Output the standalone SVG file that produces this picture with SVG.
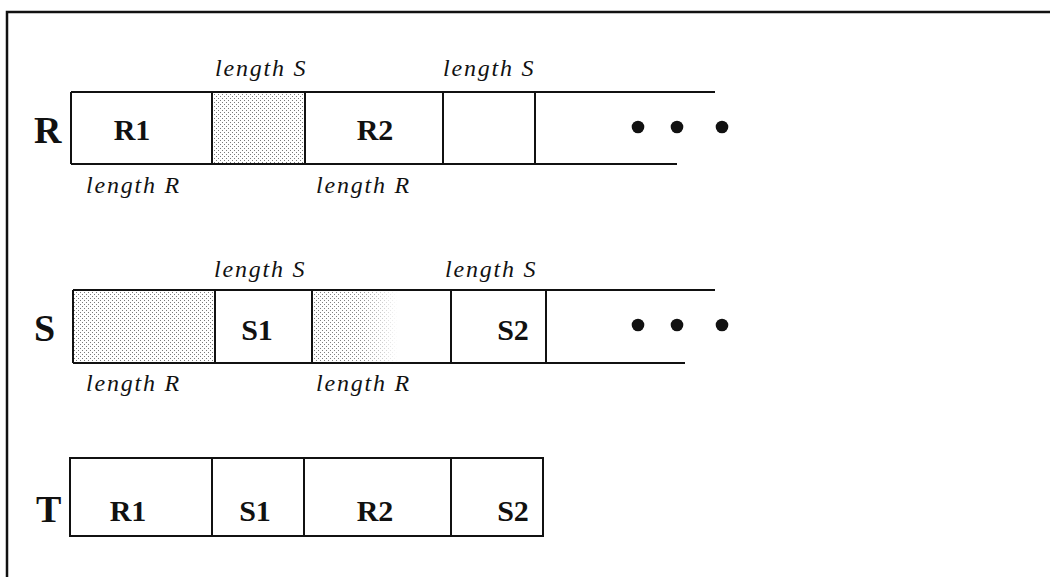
<svg xmlns="http://www.w3.org/2000/svg" width="1050" height="577" viewBox="0 0 1050 577">
  <style>
    .rule { stroke: #111; stroke-width: 2; fill: none; }
    .box { fill: none; stroke: #111; stroke-width: 2; }
    .frame { stroke: #111; stroke-width: 2.5; fill: none; }
    .big { font-family: "Liberation Serif", "Times New Roman", serif; font-weight: bold; font-size: 38px; fill: #111; }
    .cell { font-family: "Liberation Serif", "Times New Roman", serif; font-weight: bold; font-size: 30px; fill: #111; text-anchor: middle; }
    .len { font-family: "Liberation Serif", "Times New Roman", serif; font-style: italic; font-size: 24px; letter-spacing: 1.8px; fill: #111; }
    .dot { fill: #111; }
  </style>
  <defs>
    <pattern id="stipple" width="4" height="4" patternUnits="userSpaceOnUse">
      <rect width="4" height="4" fill="#fff"/>
      <rect x="0" y="0" width="1" height="1" fill="#7a7a7a"/>
      <rect x="2" y="2" width="1" height="1" fill="#7a7a7a"/>
    </pattern>
    <linearGradient id="fade" x1="0" y1="0" x2="1" y2="0">
      <stop offset="0" stop-color="#fff" stop-opacity="1"/>
      <stop offset="0.35" stop-color="#fff" stop-opacity="0.9"/>
      <stop offset="0.62" stop-color="#fff" stop-opacity="0"/>
    </linearGradient>
    <mask id="fadeMask" maskUnits="userSpaceOnUse" x="312" y="290" width="139" height="73">
      <rect x="312" y="290" width="139" height="73" fill="url(#fade)"/>
    </mask>
  </defs>

  <!-- page frame -->
  <path class="frame" d="M7 577 V12 H1050"/>

  <!-- row R -->
  <g id="row-R">
    <text class="big" x="34" y="143">R</text>
    <rect x="212" y="92" width="93" height="72" fill="url(#stipple)"/>
    <path class="rule" d="M71 92 V164 M71 92 H715 M71 164 H677 M212 92 V164 M305 92 V164 M443 92 V164 M535 92 V164"/>
    <text class="cell" x="132" y="140">R1</text>
    <text class="cell" x="375" y="140">R2</text>
    <circle class="dot" cx="638" cy="127" r="6.3"/>
    <circle class="dot" cx="677" cy="127" r="6.3"/>
    <circle class="dot" cx="722" cy="127" r="6.3"/>
    <text class="len" x="215" y="76">length S</text>
    <text class="len" x="443" y="76">length S</text>
    <text class="len" x="86" y="193">length R</text>
    <text class="len" x="316" y="193">length R</text>
  </g>

  <!-- row S -->
  <g id="row-S">
    <text class="big" x="34" y="341">S</text>
    <rect x="73" y="290" width="142" height="73" fill="url(#stipple)"/>
    <rect x="312" y="290" width="139" height="73" fill="url(#stipple)" mask="url(#fadeMask)"/>
    <path class="rule" d="M73 290 V363 M73 290 H715 M73 363 H685 M215 290 V363 M312 290 V363 M451 290 V363 M546 290 V363"/>
    <text class="cell" x="257" y="340">S1</text>
    <text class="cell" x="513" y="340">S2</text>
    <circle class="dot" cx="638" cy="325" r="6.3"/>
    <circle class="dot" cx="677" cy="325" r="6.3"/>
    <circle class="dot" cx="722" cy="325" r="6.3"/>
    <text class="len" x="214" y="277">length S</text>
    <text class="len" x="445" y="277">length S</text>
    <text class="len" x="86" y="391">length R</text>
    <text class="len" x="316" y="391">length R</text>
  </g>

  <!-- row T -->
  <g id="row-T">
    <text class="big" x="36" y="522">T</text>
    <rect class="box" x="70" y="458" width="473" height="78"/>
    <path class="rule" d="M212 458 V536 M304 458 V536 M451 458 V536"/>
    <text class="cell" x="128" y="521">R1</text>
    <text class="cell" x="255" y="521">S1</text>
    <text class="cell" x="375" y="521">R2</text>
    <text class="cell" x="513" y="521">S2</text>
  </g>
</svg>
